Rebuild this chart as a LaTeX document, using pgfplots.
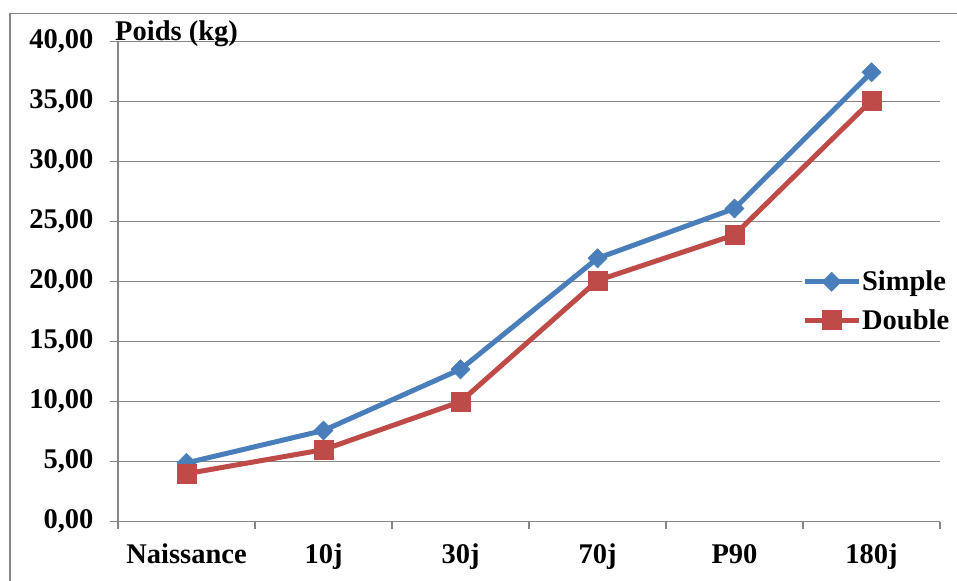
\documentclass[border=0pt]{standalone}
\usepackage{fontspec}
\setmainfont{Liberation Serif}
\usepackage{pgfplots}
\pgfplotsset{compat=1.18}
\definecolor{sblue}{RGB}{74,126,187}
\definecolor{dred}{RGB}{190,75,72}
\definecolor{gline}{RGB}{134,134,134}
\newcommand\cf{\bfseries\fontsize{28.5bp}{34bp}\selectfont}
\begin{document}
\begin{tikzpicture}[x=1bp,y=1bp]
\path[use as bounding box] (0,0) rectangle (957,581);
\draw[gline, line width=1.5bp] (10,-5) -- (10,567.7) -- (962,567.7);
\begin{axis}[
  at={(118bp,59.3bp)}, anchor=south west,
  scale only axis, width=822bp, height=480bp,
  xmin=-0.5, xmax=5.5, ymin=0, ymax=40,
  axis x line*=bottom, axis y line*=left,
  xtick={0,...,5}, xticklabels={Naissance,10j,30j,70j,P90,180j},
  minor xtick={-0.5,0.5,...,5.5},
  ytick={0,5,...,40},
  ymajorgrids, grid style={gline, line width=1.5bp},
  tick align=outside,
  major tick length=8bp, minor tick length=7bp,
  tick style={gline, line width=1.5bp},
  major x tick style={draw=none},
  axis line style={gline, line width=1.5bp},
  /pgf/number format/.cd, fixed, fixed zerofill, precision=2, use comma, 1000 sep={}, assume math mode=true,
  /pgfplots/.cd,
  ticklabel style={font=\cf},
  yticklabel style={xshift=-13bp},
  xticklabel style={text height=20bp, text depth=6bp, yshift=-10bp},
  legend style={at={(0.832,0.46)}, anchor=west, draw=none, fill=white, font=\cf, inner sep=0pt,
    row sep=15bp, nodes={inner sep=1bp}},
  legend cell align=left,
  legend image code/.code={\draw[#1, mark repeat=2, mark phase=2] plot coordinates {(0bp,0bp) (27bp,0bp) (54bp,0bp)};},
]
\addplot[color=sblue, line width=5bp, mark=square*, mark size=6.8bp, mark options={solid, rotate=45, line width=0.5bp, fill=sblue}]
  coordinates {(0,4.9) (1,7.6) (2,12.7) (3,21.95) (4,26.1) (5,37.45)};
\addlegendentry{Simple}
\addplot[color=dred, line width=5bp, mark=square*, mark size=9.3bp, mark options={solid, line width=0.5bp, fill=dred}]
  coordinates {(0,4.0) (1,6.0) (2,10.0) (3,20.1) (4,23.9) (5,35.1)};
\addlegendentry{Double}
\end{axis}
\node[anchor=base west, font=\cf, inner sep=0pt] at (115,540) {Poids (kg)};
\end{tikzpicture}
\end{document}
